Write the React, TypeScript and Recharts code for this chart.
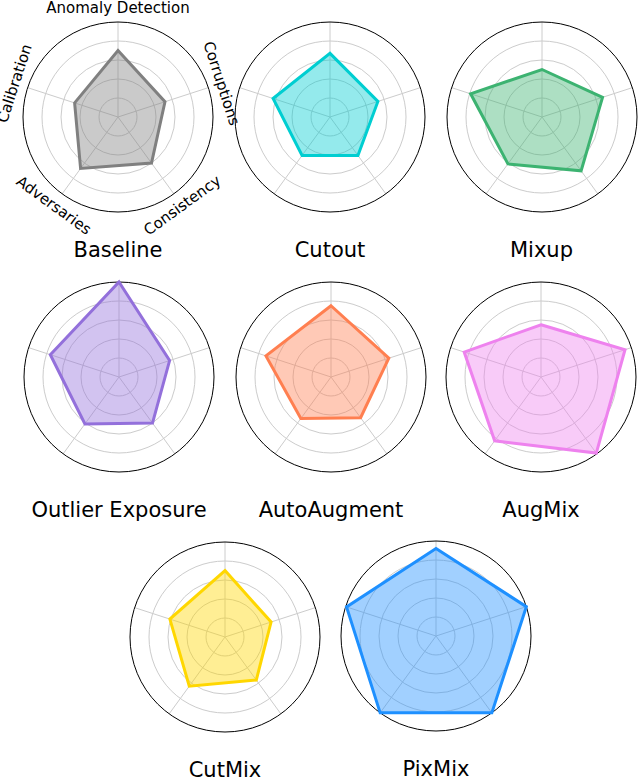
import React from 'react';
import {
    RadarChart,
    Radar,
    PolarGrid,
    PolarAngleAxis,
    PolarRadiusAxis,
} from 'recharts';

// axis names, clockwise from the top
const axes = ['Anomaly Detection', 'Corruptions', 'Consistency', 'Adversaries', 'Calibration'];

// scores per method, same order as axes (0 = centre, 1 = outer ring)
const baseline = [0.70, 0.52, 0.60, 0.67, 0.48];
const cutout = [0.67, 0.53, 0.50, 0.50, 0.63];
const mixup = [0.50, 0.67, 0.70, 0.61, 0.79];
const outlierExposure = [1.0, 0.56, 0.60, 0.61, 0.76];
const autoAugment = [0.75, 0.64, 0.53, 0.54, 0.72];
const augMix = [0.55, 0.93, 0.99, 0.83, 0.85];
const cutMix = [0.70, 0.51, 0.56, 0.64, 0.61];
const pixMix = [0.92, 1.0, 1.0, 1.0, 0.99];

const methods = ['Baseline', 'Cutout', 'Mixup', 'Outlier Exposure', 'AutoAugment', 'AugMix', 'CutMix', 'PixMix'];
const scores = [baseline, cutout, mixup, outlierExposure, autoAugment, augMix, cutMix, pixMix];
const colors = ['#808080', '#00CED1', '#3CB371', '#9370DB', '#FF7F50', '#EE82EE', '#FFD700', '#1E90FF'];

// panel centres on the page
const centers = [
    [118, 117], [330, 117], [541.5, 117],
    [119, 377], [331, 377], [541, 377],
    [225, 637], [436, 636],
];

const BOX = 270;
const C = BOX / 2;
const R = 95;
const LABEL_R = 109;
const FONT = '"DejaVu Sans", sans-serif';

// rotated axis label, tangent to the circle like matplotlib's
const AxisTick = (props: any) => {
    const { payload, index } = props;
    const ang = payload && typeof payload.coordinate === 'number' ? payload.coordinate : 90 - 72 * index;
    const rad = (ang * Math.PI) / 180;
    const x = C + LABEL_R * Math.cos(rad);
    const y = C - LABEL_R * Math.sin(rad);
    let rot = 90 - ang;
    rot = ((((rot + 180) % 360) + 360) % 360) - 180;
    if (rot > 90) rot -= 180;
    if (rot < -90) rot += 180;
    return (
        <text
            x={x}
            y={y}
            dy="0.35em"
            textAnchor="middle"
            fontSize={15}
            fontFamily={FONT}
            fill="#000"
            transform={`rotate(${rot} ${x} ${y})`}
        >
            {payload.value}
        </text>
    );
};

function Panel({ idx }: { idx: number }) {
    const [x, y] = centers[idx];
    const data = axes.map((a, i) => ({ axis: a, value: scores[idx][i] }));
    return (
        <div style={{ position: 'absolute', left: x - C, top: y - C, width: BOX, height: BOX, overflow: 'visible' }}>
            <RadarChart
                width={BOX}
                height={BOX}
                cx={C}
                cy={C}
                outerRadius={R}
                data={data}
                margin={{ top: 0, right: 0, bottom: 0, left: 0 }}
                style={{ overflow: 'visible' }}
            >
                <PolarGrid
                    gridType="circle"
                    stroke="#cccccc"
                    polarRadius={[R * 0.2, R * 0.4, R * 0.6, R * 0.8]}
                />
                <PolarAngleAxis
                    dataKey="axis"
                    tick={idx === 0 ? <AxisTick /> : false}
                    axisLine={false}
                    tickLine={false}
                />
                <PolarRadiusAxis domain={[0, 1]} tick={false} axisLine={false} />
                <Radar
                    dataKey="value"
                    stroke={colors[idx]}
                    strokeWidth={3}
                    fill={colors[idx]}
                    fillOpacity={0.42}
                    dot={false}
                    isAnimationActive={false}
                />
                <PolarGrid
                    gridType="circle"
                    stroke="#000"
                    radialLines={false}
                    polarRadius={[R]}
                />
            </RadarChart>
        </div>
    );
}

export default function App() {
    return (
        <div
            style={{
                position: 'absolute',
                left: 0,
                top: 0,
                width: 640,
                height: 777,
                overflow: 'hidden',
                background: '#fff',
            }}
        >
            {methods.map((m, i) => (
                <Panel key={m} idx={i} />
            ))}
            <svg
                width={640}
                height={777}
                style={{ position: 'absolute', left: 0, top: 0, pointerEvents: 'none' }}
            >
                {methods.map((m, i) => (
                    <text
                        key={m}
                        x={centers[i][0]}
                        y={centers[i][1] + 140}
                        textAnchor="middle"
                        fontSize={21}
                        fontFamily={FONT}
                        fill="#000"
                    >
                        {m}
                    </text>
                ))}
            </svg>
        </div>
    );
}
